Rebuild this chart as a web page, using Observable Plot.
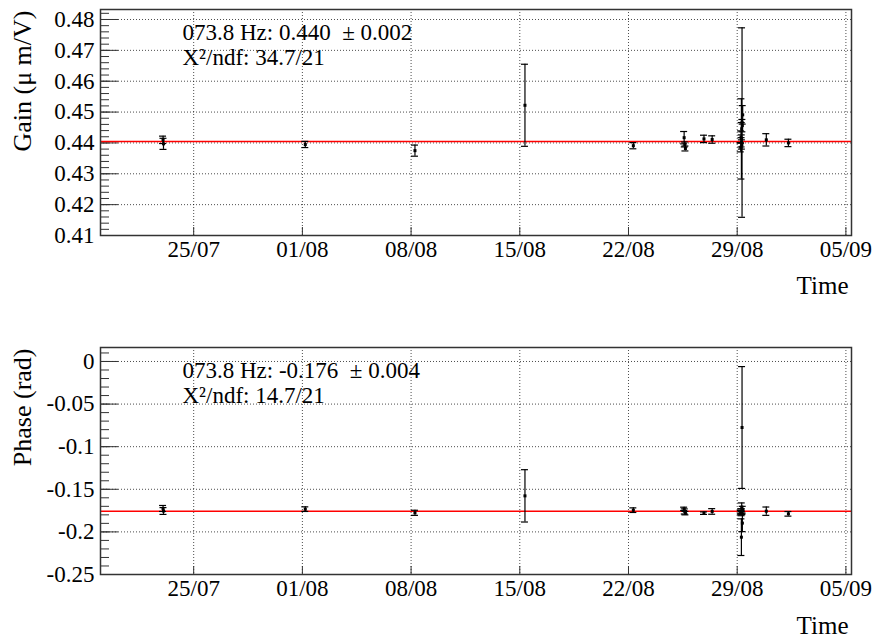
<!DOCTYPE html>
<html><head><meta charset="utf-8">
<script src="https://cdn.jsdelivr.net/npm/d3@7"></script>
<script src="https://cdn.jsdelivr.net/npm/@observablehq/plot@0.6"></script>
<style>
body{margin:0;background:#fff;}
#chart{width:872px;height:637px;}
#chart svg{display:block;}
</style></head><body><div id="chart"></div>
<script>
// ---- data ----
const times = [
  "2016-07-23T00:40Z", "2016-07-23T01:20Z",
  "2016-08-01T04:30Z",
  "2016-08-08T06:00Z",
  "2016-08-15T08:00Z",
  "2016-08-22T07:30Z",
  "2016-08-25T14:00Z", "2016-08-25T15:00Z", "2016-08-25T16:00Z",
  "2016-08-26T20:40Z",
  "2016-08-27T09:20Z",
  "2016-08-29T07:30Z", "2016-08-29T06:30Z", "2016-08-29T08:30Z", "2016-08-29T08:00Z", "2016-08-29T07:00Z",
  "2016-08-29T06:00Z", "2016-08-29T06:45Z", "2016-08-29T07:15Z", "2016-08-29T05:30Z",
  "2016-08-30T21:00Z",
  "2016-09-01T07:10Z"
];
const gainValues = [0.4410, 0.4397, 0.4395, 0.4375, 0.4522, 0.4391, 0.4417, 0.4395, 0.4382, 0.4413, 0.4411,
  0.4466, 0.4413, 0.4491, 0.4456, 0.4446, 0.4419, 0.4402, 0.4395, 0.4386, 0.4410, 0.4400];
const gainErrors = [0.0012, 0.0018, 0.0010, 0.0018, 0.0133, 0.0010, 0.0020, 0.0008, 0.0008, 0.0012, 0.0012,
  0.0307, 0.0130, 0.0030, 0.0020, 0.0020, 0.0020, 0.0015, 0.0015, 0.0015, 0.0020, 0.0012];
const phaseValues = [-0.1725, -0.1755, -0.1733, -0.1776, -0.1577, -0.1745, -0.1730, -0.1760, -0.1780, -0.1780, -0.1760,
  -0.0775, -0.2062, -0.1740, -0.1897, -0.1710, -0.1760, -0.1780, -0.1755, -0.1770, -0.1757, -0.1788];
const phaseErrors = [0.0035, 0.0040, 0.0027, 0.0030, 0.0307, 0.0027, 0.0020, 0.0030, 0.0020, 0.0015, 0.0033,
  0.0715, 0.0215, 0.0040, 0.0100, 0.0050, 0.0030, 0.0030, 0.0025, 0.0020, 0.0049, 0.0027];
const gainFit = 0.4405;
const phaseFit = -0.1757;
const gainText = ["073.8 Hz: 0.440\u00a0 \u00b1 0.002", "X\u00b2/ndf: 34.7/21"];
const phaseText = ["073.8 Hz: -0.176\u00a0 \u00b1 0.004", "X\u00b2/ndf: 14.7/21"];
const xDomain = ["2016-07-19T00:00Z", "2016-09-05T08:40Z"];
const xTickDates = ["2016-07-25T00:00Z", "2016-08-01T00:00Z", "2016-08-08T00:00Z", "2016-08-15T00:00Z",
  "2016-08-22T00:00Z", "2016-08-29T00:00Z", "2016-09-05T00:00Z"];
const xTickLabels = ["25/07", "01/08", "08/08", "15/08", "22/08", "29/08", "05/09"];
const gainTicks = [0.41, 0.42, 0.43, 0.44, 0.45, 0.46, 0.47, 0.48];
const gainTickLabels = ["0.41", "0.42", "0.43", "0.44", "0.45", "0.46", "0.47", "0.48"];
const gainDomain = [0.41, 0.48324];
const phaseTicks = [-0.25, -0.2, -0.15, -0.1, -0.05, 0];
const phaseTickLabels = ["-0.25", "-0.2", "-0.15", "-0.1", "-0.05", "0"];
const phaseDomain = [-0.25, 0.0164];
const xTitle = "Time";
const gainTitle = "Gain (\u03bc m/V)";
const phaseTitle = "Phase (rad)";

const FONT = "'Liberation Serif', 'DejaVu Serif', serif";
const W = 872, ML = 100, MR = 21;

function panel(o) {
  const data = times.map((t, i) => ({t: new Date(t), v: o.values[i], lo: o.values[i] - o.errors[i], hi: o.values[i] + o.errors[i]}));
  const xt = xTickDates.map(d => new Date(d));
  const xLab = new Map(xt.map((d, i) => [d.getTime(), xTickLabels[i]]));
  const yLab = new Map(o.ticks.map((d, i) => [d, o.tickLabels[i]]));
  const fw = W - ML - MR;
  const fh = o.height - o.marginTop - o.marginBottom;
  const minor = d3.range(Math.round((o.domain[0]) / o.minorStep), Math.floor(o.domain[1] / o.minorStep + 1e-6) + 1)
    .map(k => +(k * o.minorStep).toFixed(6));
  return Plot.plot({
    width: W, height: o.height,
    marginLeft: ML, marginRight: MR, marginTop: o.marginTop, marginBottom: o.marginBottom,
    style: {fontFamily: FONT, fontSize: "23px", background: "#fff", color: "#000"},
    x: {type: "utc", domain: xDomain.map(d => new Date(d))},
    y: {domain: o.domain},
    marks: [
      Plot.gridX(xt, {stroke: "#000", strokeOpacity: 0.7, strokeDasharray: "1,2"}),
      Plot.gridY(o.ticks, {stroke: "#000", strokeOpacity: 0.7, strokeDasharray: "1,2"}),
      Plot.tickY(minor, {y: d => d, insetRight: fw - 9, stroke: "#333"}),
      Plot.tickY(o.ticks, {y: d => d, insetRight: fw - 18, stroke: "#333"}),
      Plot.tickX(xt, {x: d => d, insetTop: fh - 8, stroke: "#333"}),
      Plot.ruleY([o.fit], {stroke: "#ff0000", strokeWidth: 1.5}),
      Plot.ruleX(data, {x: "t", y1: "lo", y2: "hi", stroke: "#000", strokeWidth: 1.2}),
      Plot.ruleY(data, {y: "lo", x1: "t", x2: "t", insetLeft: -3.5, insetRight: -3.5, stroke: "#000", strokeWidth: 1.2}),
      Plot.ruleY(data, {y: "hi", x1: "t", x2: "t", insetLeft: -3.5, insetRight: -3.5, stroke: "#000", strokeWidth: 1.2}),
      Plot.dot(data, {x: "t", y: "v", symbol: "square", r: 1.7, fill: "#000"}),
      Plot.axisX(xt, {tickSize: 0, tickPadding: 5, tickFormat: d => xLab.get(d.getTime()), label: null, fontSize: 23}),
      Plot.axisY(o.ticks, {tickSize: 0, tickPadding: 6, tickFormat: d => yLab.get(d), label: null, fontSize: 23}),
      Plot.text([o.title], {text: d => d, frameAnchor: "top-left", rotate: -90, textAnchor: "end", lineAnchor: "middle", dx: -78, dy: 1, fontSize: 26}),
      Plot.text([xTitle], {text: d => d, frameAnchor: "bottom-right", textAnchor: "end", lineAnchor: "middle", dx: -3, dy: o.timeDy, fontSize: 25}),
      Plot.text([o.text[0]], {text: d => d, frameAnchor: "top-left", textAnchor: "start", lineAnchor: "middle", dx: 82, dy: 23, fontSize: 23}),
      Plot.text([o.text[1]], {text: d => d, frameAnchor: "top-left", textAnchor: "start", lineAnchor: "middle", dx: 82, dy: 48, fontSize: 23}),
      Plot.frame({stroke: "#333", strokeWidth: 1.5})
    ]
  });
}

const chart = document.getElementById("chart");
chart.append(panel({values: gainValues, errors: gainErrors, fit: gainFit, text: gainText,
  ticks: gainTicks, tickLabels: gainTickLabels, domain: gainDomain, minorStep: 0.002,
  title: gainTitle, height: 310, marginTop: 9, marginBottom: 75, timeDy: 50}));
chart.append(panel({values: phaseValues, errors: phaseErrors, fit: phaseFit, text: phaseText,
  ticks: phaseTicks, tickLabels: phaseTickLabels, domain: phaseDomain, minorStep: 0.01,
  title: phaseTitle, height: 327, marginTop: 37, marginBottom: 63, timeDy: 51}));
</script></body></html>
